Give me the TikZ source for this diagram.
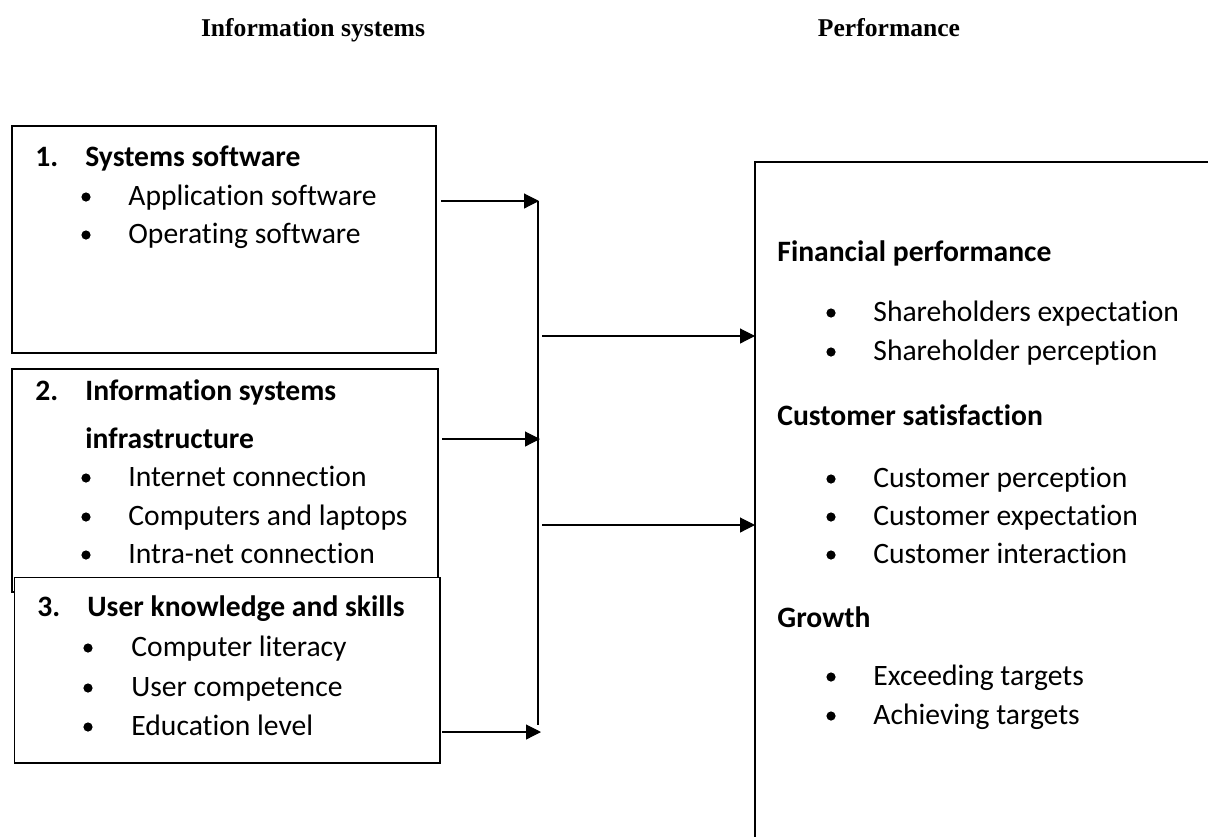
\documentclass[tikz,border=0pt]{standalone}
\usepackage{fontspec}
\setmainfont{Carlito}[Ligatures=NoCommon]
\newfontfamily\headfont{Liberation Serif}
\usetikzlibrary{arrows.meta}

\begin{document}
\begin{tikzpicture}[x=0.5pt,y=-0.5pt,
  box/.style={draw, line width=0.7pt, fill=white, inner sep=0pt, outer sep=0pt},
  txt/.style={anchor=base west, inner sep=0pt, font=\fontsize{14.8}{17}\selectfont},
  head/.style={anchor=base west, inner sep=0pt, font=\fontsize{14.8}{17}\selectfont\bfseries},
  coltitle/.style={anchor=base, inner sep=0pt, font=\headfont\fontsize{12.8}{15}\selectfont\bfseries},
  dot/.style={circle, fill=black, inner sep=0pt, minimum size=4.6pt},
  link/.style={line width=0.55pt, -{Triangle[length=7.5pt,width=7.5pt]}},
  bus/.style={line width=0.6pt}]

\useasboundingbox (0,0) rectangle (1208,836);
\clip (0,0) rectangle (1208,836);

% column headings
\node[coltitle] (t1) at (313,36) {Information systems};
\node[coltitle] (t2) at (889,36) {Performance};

% input boxes
\node[box, minimum width=212pt, minimum height=113.5pt] (b1) at (224,239.5) {};
\node[box, minimum width=213pt, minimum height=111.5pt] (b2) at (225,480.5) {};
\node[box, minimum width=212.75pt, minimum height=92.75pt] (b3) at (227.25,670.25) {};

% outcome box (runs off the right and bottom edges)
\node[box, minimum width=242.5pt, minimum height=354pt] (perf) at (997.5,516) {};

% box 1
\node[head] (n1) at (35,166) {1.};
\node[head] (h1) at (85,166) {Systems software};
\node[dot] (d11) at (86,197) {};
\node[txt] (i11) at (128,205) {Application software};
\node[dot] (d12) at (86,235) {};
\node[txt] (i12) at (128,243) {Operating software};

% box 2
\node[head] (n2) at (35,400) {2.};
\node[head] (h2a) at (85,400) {Information systems};
\node[head] (h2b) at (85,448) {infrastructure};
\node[dot] (d21) at (86,478) {};
\node[txt] (i21) at (128,486) {Internet connection};
\node[dot] (d22) at (86,517) {};
\node[txt] (i22) at (128,525) {Computers and laptops};
\node[dot] (d23) at (86,555) {};
\node[txt] (i23) at (128,563) {Intra-net connection};

% box 3
\node[head] (n3) at (37,616) {3.};
\node[head] (h3) at (87,616) {User knowledge and skills};
\node[dot] (d31) at (88,648) {};
\node[txt] (i31) at (131,656) {Computer literacy};
\node[dot] (d32) at (88,688) {};
\node[txt] (i32) at (131,696) {User competence};
\node[dot] (d33) at (88,727) {};
\node[txt] (i33) at (131,735) {Education level};

% outcome box contents
\node[head] (p1) at (777,261) {Financial performance};
\node[dot] (pd11) at (831,313) {};
\node[txt] (p11) at (873,321) {Shareholders expectation};
\node[dot] (pd12) at (831,352) {};
\node[txt] (p12) at (873,360) {Shareholder perception};
\node[head] (p2) at (777,425) {Customer satisfaction};
\node[dot] (pd21) at (831,479) {};
\node[txt] (p21) at (873,487) {Customer perception};
\node[dot] (pd22) at (831,517) {};
\node[txt] (p22) at (873,525) {Customer expectation};
\node[dot] (pd23) at (831,555) {};
\node[txt] (p23) at (873,563) {Customer interaction};
\node[head] (p3) at (777,627) {Growth};
\node[dot] (pd31) at (831,677) {};
\node[txt] (p31) at (873,685) {Exceeding targets};
\node[dot] (pd32) at (831,716) {};
\node[txt] (p32) at (873,724) {Achieving targets};

% collector line and its junction points
\coordinate (busTop) at (538,201);
\coordinate (j2) at (538,439);
\coordinate (j3) at (538,732);
\coordinate (busBot) at (538,725);
\coordinate (o1) at (538,336);
\coordinate (o2) at (538,525);

\draw[bus] (busTop) -- (busBot);

% inputs into the collector
\draw[link] ([xshift=2.5pt]b1.east |- busTop) -- ([xshift=0.5pt]busTop);
\draw[link] ([xshift=2pt]b2.east |- j2) -- ([xshift=1pt]j2);
\draw[link] ([xshift=1pt]b3.east |- j3) -- ([xshift=1.5pt]j3);

% collector into the outcome box
\draw[link] ([xshift=2pt]o1) -- (perf.west |- o1);
\draw[link] ([xshift=2pt]o2) -- (perf.west |- o2);

\end{tikzpicture}
\end{document}
